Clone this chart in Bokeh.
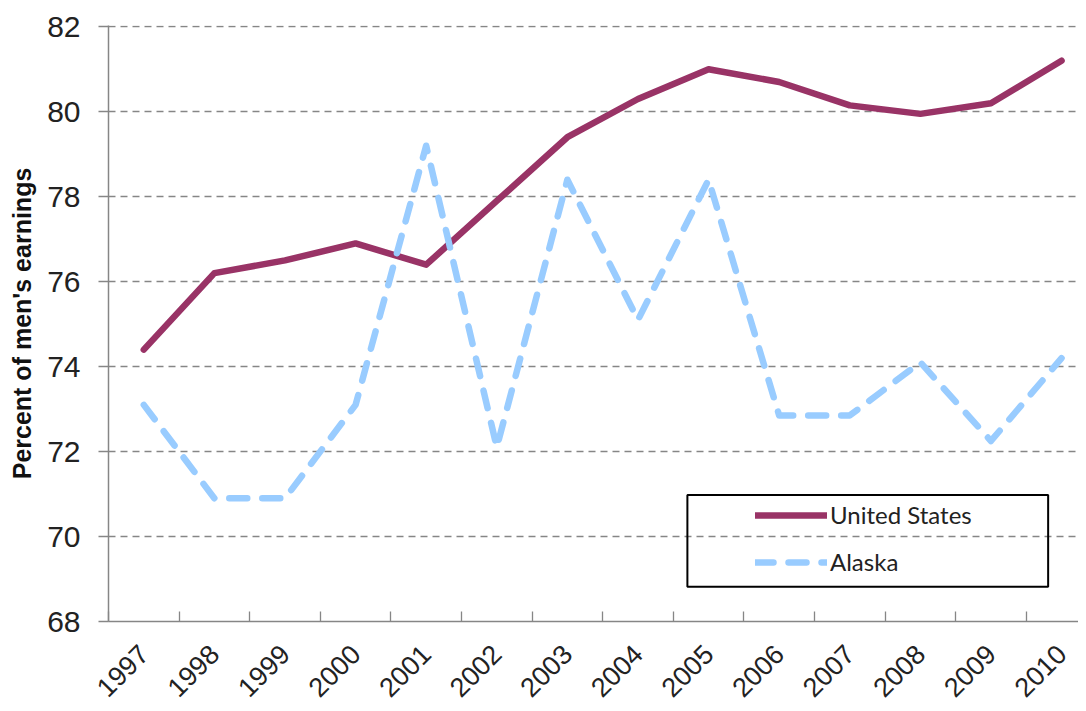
import math
from bokeh.plotting import figure
from bokeh.models import FixedTicker, Range1d, Legend, LegendItem, BoxAnnotation
from bokeh.embed import file_html
from bokeh.resources import INLINE

years = ["1997", "1998", "1999", "2000", "2001", "2002", "2003",
         "2004", "2005", "2006", "2007", "2008", "2009", "2010"]
united_states = [74.4, 76.2, 76.5, 76.9, 76.4, 77.9, 79.4,
                 80.3, 81.0, 80.7, 80.15, 79.95, 80.2, 81.2]
alaska = [73.1, 70.9, 70.9, 73.1, 79.2, 72.1, 78.4,
          75.1, 78.4, 72.85, 72.85, 74.1, 72.25, 74.2]
y_ticks = [68, 70, 72, 74, 76, 78, 80, 82]

xs = [i + 0.5 for i in range(len(years))]
boundaries = list(range(len(years) + 1))

p = figure(frame_width=970, frame_height=596,
           x_range=Range1d(0, 13.74), y_range=Range1d(68, 82.03),
           output_backend="svg", toolbar_location=None,
           min_border_left=108, min_border_top=25, min_border_right=0,
           min_border_bottom=78)
p.outline_line_color = None
p.background_fill_color = "white"
p.border_fill_color = "white"

# grid
p.xgrid.grid_line_color = None
p.ygrid.ticker = FixedTicker(ticks=y_ticks)
p.ygrid.grid_line_color = "#868686"
p.ygrid.grid_line_dash = "7 5"
p.ygrid.grid_line_width = 1.3

# x axis
xa = p.xaxis[0]
xa.ticker = FixedTicker(ticks=xs, minor_ticks=boundaries)
xa.major_label_overrides = {x: y for x, y in zip(xs, years)}
xa.major_tick_line_color = None
xa.minor_tick_line_color = "#868686"
xa.minor_tick_line_width = 1.3
xa.minor_tick_in = 10
xa.minor_tick_out = 0
xa.axis_line_color = "#868686"
xa.axis_line_width = 1.5
xa.major_label_orientation = math.pi / 4
xa.major_label_text_font = "Liberation Sans"
xa.major_label_text_font_size = "27px"
xa.major_label_text_color = "#222222"
xa.major_label_standoff = 22

# y axis
ya = p.yaxis[0]
ya.ticker = FixedTicker(ticks=y_ticks)
ya.minor_tick_line_color = None
ya.major_tick_line_color = "#868686"
ya.major_tick_line_width = 1.3
ya.major_tick_in = 0
ya.major_tick_out = 10
ya.axis_line_color = "#868686"
ya.axis_line_width = 1.5
ya.major_label_text_font = "Liberation Sans"
ya.major_label_text_font_size = "30px"
ya.major_label_text_color = "#222222"
ya.major_label_standoff = 18
ya.axis_label = "Percent of men's earnings"
ya.axis_label_text_font = "Liberation Sans"
ya.axis_label_text_font_style = "bold"
ya.axis_label_text_font_size = "25px"
ya.axis_label_text_color = "#111111"
ya.axis_label_standoff = 8

r_us = p.line(xs, united_states, line_color="#993366", line_width=6.5,
              line_cap="round", line_join="round")
r_ak = p.line(xs, alaska, line_color="#99CCFF", line_width=6.5,
              line_dash="18 15", line_cap="round", line_join="round")

# legend frame
box = BoxAnnotation(left=8.2, right=13.31, bottom=68.82, top=70.98,
                    fill_alpha=0, line_color="#000000", line_alpha=1.0,
                    line_width=2)
p.add_layout(box)

legend = Legend(items=[LegendItem(label="United States", renderers=[r_us]),
                       LegendItem(label="Alaska", renderers=[r_ak])],
                location=(647, 45), padding=0, margin=0, spacing=18,
                glyph_width=72, glyph_height=20, label_height=20,
                label_standoff=3, border_line_color=None,
                background_fill_alpha=0,
                label_text_font="Lato", label_text_font_size="24px",
                label_text_color="#222222")
p.add_layout(legend)

open("out.html", "w").write(file_html(p, INLINE))
